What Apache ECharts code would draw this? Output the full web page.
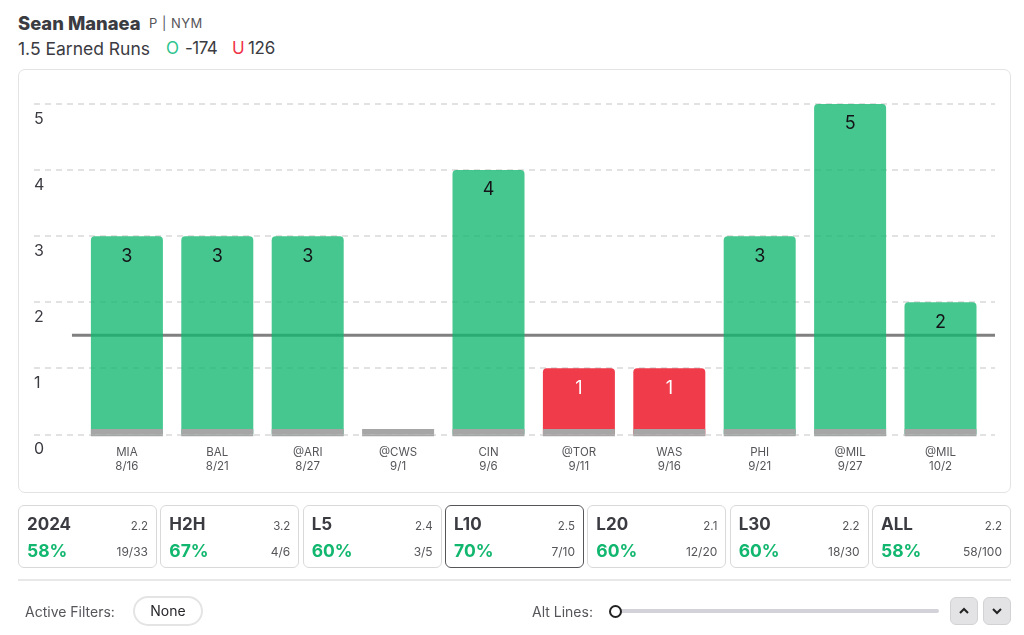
<!DOCTYPE html>
<html>
<head>
<meta charset="utf-8">
<title>Sean Manaea</title>
<script src="https://cdn.jsdelivr.net/npm/echarts@6/dist/echarts.min.js"></script>
<style>
html, body { margin: 0; padding: 0; background: #fff; }
body { width: 1024px; height: 635px; position: relative; overflow: hidden; font-family: Inter, "Noto Sans", sans-serif; color: #3b3b42; }
.abs { position: absolute; white-space: nowrap; }
#panel { position: absolute; left: 18px; top: 69px; width: 991px; height: 422px; border: 1.5px solid #e3e3e3; border-radius: 7px; }
#chart { position: absolute; left: 0; top: 0; width: 1024px; height: 635px; }
#cards { position: absolute; left: 18px; top: 505px; width: 993px; height: 63px; display: flex; justify-content: space-between; }
.card { position: relative; width: 139px; height: 63px; box-sizing: border-box; border: 1.5px solid #d9d9d9; border-radius: 6px; }
.card.active { border-color: #55555a; }
.card div { position: absolute; white-space: nowrap; }
.name { left: 8px; top: 8px; font-size: 17px; font-weight: 700; }
.avg { right: 8px; top: 13px; font-size: 11.5px; color: #55555a; }
.pct { left: 8px; top: 34px; font-size: 17.5px; font-weight: 700; color: #12b76f; }
.frac { right: 8px; top: 38px; font-size: 12px; color: #55555a; }
#rule { position: absolute; left: 18px; top: 579px; width: 993px; height: 2px; background: #e8e8e8; }
.btn { position: absolute; top: 597px; width: 28px; height: 28px; box-sizing: border-box; background: #e3e3e6; border: 1px solid #d2d2d4; border-radius: 6px; }
.btn svg { position: absolute; left: 7px; top: 8px; }
</style>
</head>
<body>
<div class="abs" style="left:18px;top:12px;font-size:18.4px;font-weight:800;">Sean Manaea</div>
<div class="abs" style="left:149px;top:15px;font-size:13px;letter-spacing:0.5px;color:#55555a;">P | NYM</div>
<div class="abs" style="left:18px;top:38px;font-size:17.5px;">1.5 Earned Runs</div>
<div class="abs" style="left:166px;top:38px;font-size:17px;color:#2ec48d;">O</div>
<div class="abs" style="left:185px;top:38px;font-size:17px;letter-spacing:-0.5px;">-174</div>
<div class="abs" style="left:232px;top:38px;font-size:17px;color:#ef3348;">U</div>
<div class="abs" style="left:248px;top:38px;font-size:17px;letter-spacing:-0.3px;">126</div>

<div id="panel"></div>
<div id="chart"></div>
<div id="cards"></div>
<div id="rule"></div>

<div class="abs" style="left:25px;top:603px;font-size:14px;color:#55555a;">Active Filters:</div>
<div class="abs" style="left:133px;top:596px;width:70px;height:30px;box-sizing:border-box;border:2px solid #e4e4e4;border-radius:15px;text-align:center;line-height:26px;font-size:14px;color:#26262b;">None</div>
<div class="abs" style="left:532px;top:603px;font-size:14px;color:#55555a;">Alt Lines:</div>
<div class="abs" style="left:615px;top:609px;width:324px;height:3.5px;border-radius:2px;background:#d2d2d8;"></div>
<div class="abs" style="left:609px;top:605px;width:13px;height:13px;box-sizing:border-box;border:2.5px solid #222;border-radius:50%;background:#fff;"></div>
<div class="btn" style="left:950px;"><svg width="12" height="10"><path d="M2 7 L6 3 L10 7" fill="none" stroke="#222" stroke-width="2"/></svg></div>
<div class="btn" style="left:983px;"><svg width="12" height="10"><path d="M2 3 L6 7 L10 3" fill="none" stroke="#222" stroke-width="2"/></svg></div>

<script>
// game log
var opponents = ['MIA', 'BAL', '@ARI', '@CWS', 'CIN', '@TOR', 'WAS', 'PHI', '@MIL', '@MIL'];
var gameDates = ['8/16', '8/21', '8/27', '9/1', '9/6', '9/11', '9/16', '9/21', '9/27', '10/2'];
var earnedRuns = [3, 3, 3, 0, 4, 1, 1, 3, 5, 2];
// grey strip along the foot of every bar
var floorTop = [0.08, 0.08, 0.08, 0.08, 0.08, 0.08, 0.08, 0.08, 0.08, 0.08];
var floorBelow = [-0.03, -0.03, -0.03, -0.03, -0.03, -0.03, -0.03, -0.03, -0.03, -0.03];
var yTicks = [0, 1, 2, 3, 4, 5];
var propLine = 1.5;
var lineSpan = [0.0395, 1];

// split cards
var cardNames = ['2024', 'H2H', 'L5', 'L10', 'L20', 'L30', 'ALL'];
var cardAvgs = ['2.2', '3.2', '2.4', '2.5', '2.1', '2.2', '2.2'];
var cardPcts = ['58%', '67%', '60%', '70%', '60%', '60%', '58%'];
var cardFracs = ['19/33', '4/6', '3/5', '7/10', '12/20', '18/30', '58/100'];
var activeCard = 'L10';

var cardsHtml = '';
for (var i = 0; i < cardNames.length; i++) {
    cardsHtml += '<div class="card' + (cardNames[i] === activeCard ? ' active' : '') + '">' +
        '<div class="name">' + cardNames[i] + '</div>' +
        '<div class="avg">' + cardAvgs[i] + '</div>' +
        '<div class="pct">' + cardPcts[i] + '</div>' +
        '<div class="frac">' + cardFracs[i] + '</div></div>';
}
document.getElementById('cards').innerHTML = cardsHtml;

var xLabels = [];
var barData = [];
for (var j = 0; j < opponents.length; j++) {
    xLabels.push(opponents[j] + '\n' + gameDates[j]);
    var over = earnedRuns[j] > propLine;
    barData.push({
        value: earnedRuns[j],
        itemStyle: { color: over ? 'rgba(18,183,111,0.78)' : 'rgba(234,4,23,0.78)' },
        label: { color: over ? '#141418' : '#ffffff' }
    });
}

var myChart = echarts.init(document.getElementById('chart'));
myChart.setOption({
    animation: false,
    textStyle: { fontFamily: 'Inter, "Noto Sans", sans-serif' },
    grid: [
        { left: 81.7, width: 904, top: 104, height: 332.3 },
        { left: 34, width: 961, top: 104, height: 330.3 }
    ],
    xAxis: [{
        type: 'category',
        gridIndex: 0,
        data: xLabels,
        axisLine: { show: false },
        axisTick: { show: false },
        axisLabel: { color: '#55555a', fontSize: 11.5, lineHeight: 14, margin: 9, interval: 0 }
    }, {
        type: 'value',
        gridIndex: 1,
        min: 0,
        max: 1,
        show: false
    }],
    yAxis: [{
        type: 'value',
        gridIndex: 0,
        min: -0.03,
        max: 5,
        show: false
    }, {
        type: 'value',
        gridIndex: 1,
        min: yTicks[0],
        max: yTicks[yTicks.length - 1],
        interval: 1,
        axisLine: { show: false },
        axisTick: { show: false },
        axisLabel: {
            inside: true,
            margin: 0,
            align: 'left',
            verticalAlign: 'top',
            padding: [7, 0, 0, 0],
            color: '#3b3b42',
            fontSize: 16
        },
        splitLine: { lineStyle: { color: '#e2e2e2', width: 2, type: [6, 5] } }
    }],
    series: [{
        name: 'Earned Runs',
        type: 'bar',
        xAxisIndex: 0,
        yAxisIndex: 0,
        barWidth: 72,
        barGap: '-100%',
        data: barData,
        itemStyle: { borderRadius: [4, 4, 0, 0] },
        z: 3,
        label: {
            show: true,
            position: 'insideTop',
            distance: 11,
            fontSize: 18,
            formatter: function(p) { return p.value > 0 ? p.value : ''; }
        }
    }, {
        name: 'Floor',
        type: 'bar',
        stack: 'floor',
        xAxisIndex: 0,
        yAxisIndex: 0,
        barWidth: 72,
        data: floorTop,
        itemStyle: { color: '#a6a6a6' },
        z: 4
    }, {
        name: 'Floor below',
        type: 'bar',
        stack: 'floor',
        xAxisIndex: 0,
        yAxisIndex: 0,
        barWidth: 72,
        data: floorBelow,
        itemStyle: { color: '#a6a6a6' },
        z: 4
    }, {
        name: 'Line',
        type: 'line',
        xAxisIndex: 1,
        yAxisIndex: 1,
        data: [[lineSpan[0], propLine], [lineSpan[1], propLine]],
        symbol: 'none',
        lineStyle: { color: '#808080', width: 3 },
        z: 1
    }]
});
</script>
</body>
</html>
